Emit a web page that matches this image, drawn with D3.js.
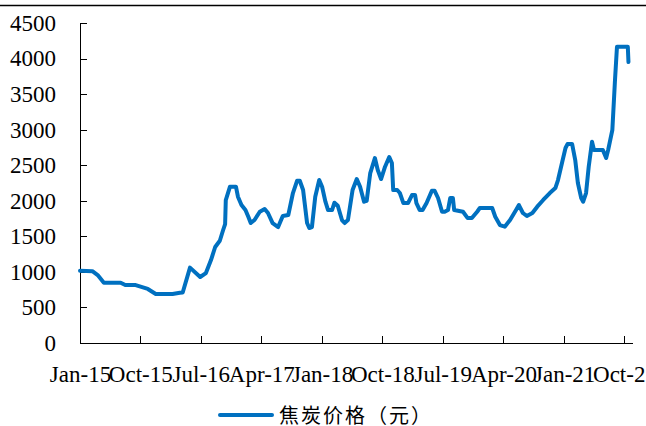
<!DOCTYPE html>
<html>
<head>
<meta charset="utf-8">
<script src="https://cdn.jsdelivr.net/npm/d3@7"></script>
<style>
  html, body { margin: 0; padding: 0; background: #fff; overflow: hidden; }
  svg { display: block; }
</style>
</head>
<body>
<svg id="chart" width="646" height="426"></svg>
<script>
// Coke price (yuan/ton), sampled at the turning points of the series
const dates = [
  "2015-01-01","2015-02-26","2015-03-22","2015-04-19","2015-07-04","2015-07-25","2015-09-10","2015-11-04",
  "2015-12-10","2016-02-24","2016-03-28","2016-04-10","2016-05-13","2016-06-28","2016-07-24","2016-08-16",
  "2016-09-04","2016-09-25","2016-10-10","2016-10-19","2016-10-22","2016-11-10","2016-12-07","2016-12-16",
  "2017-01-01","2017-01-19","2017-02-01","2017-02-12","2017-03-01","2017-03-25","2017-04-16","2017-05-01",
  "2017-05-22","2017-06-16","2017-07-07","2017-08-01","2017-08-22","2017-09-10","2017-09-22","2017-10-07",
  "2017-10-25","2017-11-04","2017-11-16","2017-12-01","2017-12-19","2018-01-01","2018-01-16","2018-01-28",
  "2018-02-15","2018-02-26","2018-03-13","2018-04-01","2018-04-13","2018-04-28","2018-05-19","2018-06-07",
  "2018-06-22","2018-07-10","2018-07-22","2018-08-07","2018-08-28","2018-09-10","2018-09-25","2018-10-13",
  "2018-11-01","2018-11-13","2018-11-19","2018-12-07","2018-12-19","2019-01-04","2019-01-25","2019-02-12",
  "2019-02-26","2019-03-04","2019-03-19","2019-04-01","2019-04-19","2019-05-13","2019-05-25","2019-06-10",
  "2019-06-28","2019-07-10","2019-07-25","2019-08-04","2019-08-16","2019-08-22","2019-10-01","2019-10-22",
  "2019-11-10","2019-12-04","2019-12-16","2020-02-10","2020-02-24","2020-03-16","2020-04-07","2020-05-01",
  "2020-05-28","2020-06-10","2020-06-28","2020-07-16","2020-08-10","2020-09-01","2020-09-28","2020-10-28",
  "2020-11-22","2020-12-04","2020-12-22","2021-01-07","2021-01-16","2021-02-06","2021-02-20","2021-03-04",
  "2021-03-19","2021-03-28","2021-04-10","2021-04-22","2021-05-07","2021-05-16","2021-06-25","2021-07-10",
  "2021-07-19","2021-08-07","2021-08-19","2021-08-28","2021-10-16","2021-10-19"
];
const prices = [
  1016,1010,955,848,848,815,815,760,
  690,690,707,710,1060,928,984,1167,
  1350,1438,1589,1673,2010,2198,2198,2057,
  1940,1870,1776,1687,1729,1846,1884,1828,
  1687,1631,1786,1800,2109,2282,2282,2151,
  1687,1617,1631,2057,2292,2198,1987,1870,
  1870,1973,1930,1729,1687,1729,2151,2306,
  2198,1987,2000,2390,2601,2432,2306,2479,
  2615,2530,2151,2151,2109,1968,1968,2081,
  2081,1968,1870,1870,1968,2142,2142,2039,
  1846,1846,1870,2039,2039,1870,1846,1757,
  1757,1846,1898,1898,1776,1659,1636,1729,
  1870,1940,1828,1786,1828,1917,2011,2109,
  2179,2292,2531,2742,2798,2798,2573,2250,
  2039,1987,2109,2479,2830,2714,2714,2601,
  2714,2995,3698,4166,4166,3951
];
const tickDates = ["2015-01-01","2015-10-01","2016-07-01","2017-04-01","2018-01-01",
                   "2018-10-01","2019-07-01","2020-04-01","2021-01-01","2021-10-01"];
const tickLabels = ["Jan-15","Oct-15","Jul-16","Apr-17","Jan-18","Oct-18","Jul-19","Apr-20","Jan-21","Oct-21"];
const yTicks = [0,500,1000,1500,2000,2500,3000,3500,4000,4500];
const seriesName = "焦炭价格（元）";

const parse = d3.timeParse("%Y-%m-%d");
const data = dates.map((d, i) => ({ date: parse(d), value: prices[i] }));

const svg = d3.select("#chart");
const color = "#0070C0";

// header rule
svg.append("line")
  .attr("x1", 0).attr("x2", 646).attr("y1", 5.5).attr("y2", 5.5)
  .attr("stroke", "#000").attr("stroke-width", 1.5);

const x = d3.scaleTime()
  .domain([parse("2015-01-01"), parse("2021-11-04")])
  .range([80, 632]);
const y = d3.scaleLinear().domain([0, 4500]).range([343, 23]);

function styleAxis(g) {
  g.attr("font-family", "Liberation Serif").attr("font-size", 23);
  g.selectAll("text").attr("fill", "#000")
    .attr("font-family", "Liberation Serif").attr("font-size", 23);
  g.selectAll("path, line").attr("stroke", "#000").attr("shape-rendering", "crispEdges");
}

const xAxis = d3.axisBottom(x)
  .tickValues(tickDates.map(parse))
  .tickFormat((d, i) => tickLabels[i])
  .tickSizeInner(-7).tickSizeOuter(0).tickPadding(23);
svg.append("g").attr("transform", "translate(0,343)").call(xAxis).call(styleAxis);

const yAxis = d3.axisLeft(y)
  .tickValues(yTicks)
  .tickFormat(d3.format("d"))
  .tickSizeInner(-7).tickSizeOuter(0).tickPadding(24);
svg.append("g").attr("transform", "translate(80,0)").call(yAxis).call(styleAxis);

const line = d3.line().x(d => x(d.date)).y(d => y(d.value));
svg.append("path")
  .datum(data)
  .attr("d", line)
  .attr("fill", "none")
  .attr("stroke", color)
  .attr("stroke-width", 4)
  .attr("stroke-linejoin", "round")
  .attr("stroke-linecap", "round");

// legend
const lg = svg.append("g").attr("transform", "translate(220,415)");
lg.append("line").attr("x1", 0).attr("x2", 52).attr("y1", 0).attr("y2", 0)
  .attr("stroke", color).attr("stroke-width", 4).attr("stroke-linecap", "round");
lg.append("text").attr("x", 59).attr("y", 7.5)
  .attr("font-family", "Noto Sans CJK SC").attr("font-size", 20)
  .attr("letter-spacing", 2)
  .attr("fill", "#000").text(seriesName);
</script>
</body>
</html>
